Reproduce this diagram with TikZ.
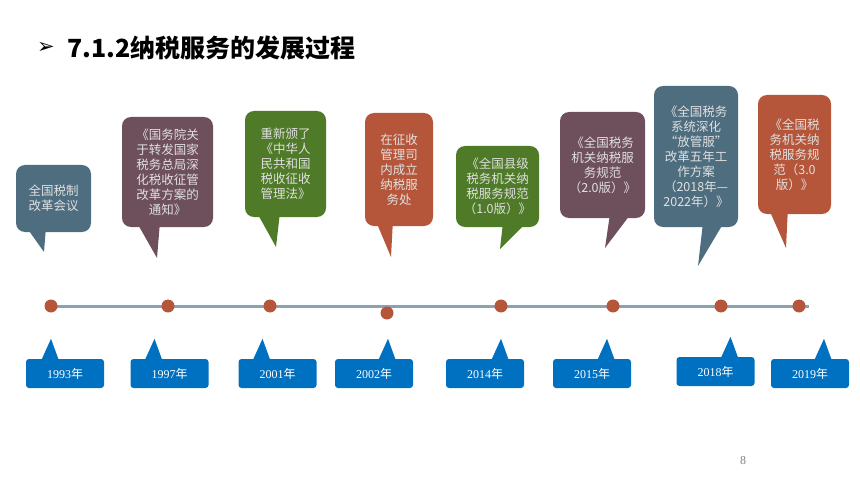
\documentclass[tikz,border=0pt]{standalone}
\usepackage{fontspec}
\setmainfont{Liberation Serif}
\newfontfamily\cjk{Noto Sans CJK SC}
\newfontfamily\dejavu{DejaVu Sans}
\usetikzlibrary{calc}

\definecolor{bubslate}{HTML}{4E6E80}
\definecolor{bubplum}{HTML}{6E4F5C}
\definecolor{bubgreen}{HTML}{4F7A28}
\definecolor{bubrust}{HTML}{B5563A}
\definecolor{yearblue}{HTML}{0070C0}
\definecolor{axisgray}{HTML}{8CA2B2}

\begin{document}
\begin{tikzpicture}[x=1pt, y=-1pt,
  bubble/.style={rounded corners=9pt, inner sep=0pt, align=center, text=white!88!black, font=\cjk\fontsize{12.5}{15}\selectfont},
  yearbox/.style={fill=yearblue, rounded corners=3pt, inner sep=0pt, minimum width=78pt, minimum height=29pt, text=white, font=\fontsize{12}{14}\selectfont},
  dot/.style={circle, fill=bubrust, inner sep=0pt, minimum size=13pt}]

\useasboundingbox (0,0) rectangle (860,484);

% title
\node[font=\dejavu\bfseries\fontsize{21}{21}\selectfont] (bullet) at (46,48) {➢};
\node[anchor=west, font=\cjk\bfseries\fontsize{25}{25}\selectfont] (title) at (64,48) {7.1.2纳税服务的发展过程};

% speech bubbles
\node[bubble, fill=bubslate, minimum width=75pt, minimum height=67pt] (b1993) at (53.5,198.5) {全国税制\\改革会议};
\coordinate (t1993) at (44,252);
\fill[bubslate] ($(b1993.south west)+(12,-3)$) -- (t1993) -- ($(b1993.south west)+(30,-3)$) -- cycle;

\node[bubble, fill=bubplum, minimum width=91pt, minimum height=110pt] (b1997) at (167.5,172) {《国务院关\\于转发国家\\税务总局深\\化税收征管\\改革方案的\\通知》};
\coordinate (t1997) at (157,258);
\fill[bubplum] ($(b1997.south west)+(16,-3)$) -- (t1997) -- ($(b1997.south west)+(38,-3)$) -- cycle;

\node[bubble, fill=bubgreen, minimum width=81pt, minimum height=106pt] (b2001) at (285.5,164) {重新颁了\\《中华人\\民共和国\\税收征收\\管理法》};
\coordinate (t2001) at (276,247);
\fill[bubgreen] ($(b2001.south west)+(13,-3)$) -- (t2001) -- ($(b2001.south west)+(35,-3)$) -- cycle;

\node[bubble, fill=bubrust, minimum width=68pt, minimum height=113pt] (b2002) at (399,169.5) {在征收\\管理司\\内成立\\纳税服\\务处};
\coordinate (t2002) at (391,257);
\fill[bubrust] ($(b2002.south west)+(12,-3)$) -- (t2002) -- ($(b2002.south west)+(28,-3)$) -- cycle;

\node[bubble, fill=bubgreen, minimum width=83pt, minimum height=81pt] (b2014) at (497.5,186.5) {《全国县级\\税务机关纳\\税服务规范\\（1.0版）》};
\coordinate (t2014) at (500,249);
\fill[bubgreen] ($(b2014.south west)+(47,-3)$) -- (t2014) -- ($(b2014.south west)+(69,-3)$) -- cycle;

\node[bubble, fill=bubplum, minimum width=85pt, minimum height=106pt] (b2015) at (602.5,165) {《全国税务\\机关纳税服\\务规范\\（2.0版）》};
\coordinate (t2015) at (605,248);
\fill[bubplum] ($(b2015.south west)+(50,-3)$) -- (t2015) -- ($(b2015.south west)+(70,-3)$) -- cycle;

\node[bubble, fill=bubslate, minimum width=84pt, minimum height=141pt] (b2018) at (696,156.5) {《全国税务\\系统深化\\“放管服”\\改革五年工\\作方案\\（2018年—\\2022年）》};
\coordinate (t2018) at (698,266);
\fill[bubslate] ($(b2018.south west)+(49,-3)$) -- (t2018) -- ($(b2018.south west)+(69,-3)$) -- cycle;

\node[bubble, fill=bubrust, minimum width=73pt, minimum height=119pt] (b2019) at (794.5,154.5) {《全国税\\务机关纳\\税服务规\\范（3.0\\版）》};
\coordinate (t2019) at (786,248);
\fill[bubrust] ($(b2019.south west)+(12,-3)$) -- (t2019) -- ($(b2019.south west)+(30,-3)$) -- cycle;

% time axis
\coordinate (axl) at (47,306);
\coordinate (axr) at (809,306);
\draw[axisgray, line width=3pt] (axl) -- (axr);
\node[dot] (d1993) at (51,306) {};
\node[dot] (d1997) at (168,306) {};
\node[dot] (d2001) at (270,306) {};
\node[dot] (d2002) at (387,313) {};
\node[dot] (d2014) at (501,306) {};
\node[dot] (d2015) at (613,306) {};
\node[dot] (d2018) at (721,306) {};
\node[dot] (d2019) at (799,306) {};

% year labels
\foreach \yr/\cx/\cy/\px in {1993/65/373.5/-14, 1997/169.5/373.5/-15, 2001/277.5/373.5/-15, 2002/374/373.5/14, 2014/485/373.5/16, 2015/592/373.5/15, 2018/715.5/371.5/15, 2019/810/373.5/14} {
  \node[yearbox] (y\yr) at (\cx,\cy) {\yr{\cjk 年}};
  \coordinate (p\yr) at ($(y\yr.north)+(\px,-20)$);
  \fill[yearblue] ($(p\yr)+(-10,22)$) -- (p\yr) -- ($(p\yr)+(8,22)$) -- cycle;
}

% page number
\node[text=gray, font=\fontsize{12}{12}\selectfont] (pageno) at (743,461) {8};
\end{tikzpicture}
\end{document}
